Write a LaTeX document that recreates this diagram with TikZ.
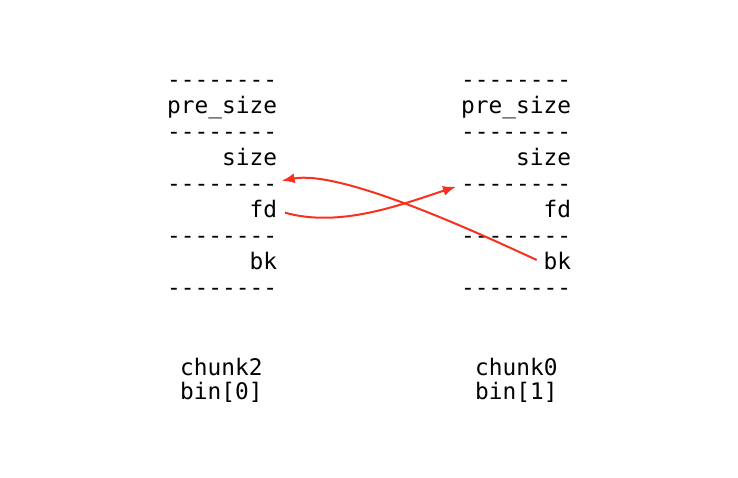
\documentclass[tikz,border=0pt]{standalone}
\usepackage{fontspec}
\setmonofont{DejaVu Sans Mono}
\usetikzlibrary{arrows.meta}
\definecolor{arrred}{RGB}{248,48,30}
\tikzset{
  row/.style={anchor=base west, inner sep=0pt, font=\ttfamily\fontsize{22.8bp}{26bp}\selectfont},
  lbl/.style={anchor=base west, inner sep=0pt, align=left, font=\ttfamily\fontsize{22.8bp}{24bp}\selectfont},
  arr/.style={draw=arrred, line width=2bp, -{Latex[length=13bp,width=10bp]}}
}
\newcommand{\dsh}{-{}-{}-{}-{}-{}-{}-{}-}
\begin{document}
\begin{tikzpicture}[x=1bp,y=-1bp]
\useasboundingbox (0,0) rectangle (738,478);
% left column
\node[row] (l0) at (167,88) {\dsh};
\node[row] (l1) at (167,113.95) {pre\_size};
\node[row] (l2) at (167,139.9) {\dsh};
\node[row] (l3) at (167,165.85) {\hphantom{----}size};
\node[row] (l4) at (167,191.8) {\dsh};
\node[row] (l5) at (167,217.75) {\hphantom{------}fd};
\node[row] (l6) at (167,243.7) {\dsh};
\node[row] (l7) at (167,269.65) {\hphantom{------}bk};
\node[row] (l8) at (167,295.6) {\dsh};
% right column
\node[row] (r0) at (461,88) {\dsh};
\node[row] (r1) at (461,113.95) {pre\_size};
\node[row] (r2) at (461,139.9) {\dsh};
\node[row] (r3) at (461,165.85) {\hphantom{----}size};
\node[row] (r4) at (461,191.8) {\dsh};
\node[row] (r5) at (461,217.75) {\hphantom{------}fd};
\node[row] (r6) at (461,243.7) {\dsh};
\node[row] (r7) at (461,269.65) {\hphantom{------}bk};
\node[row] (r8) at (461,295.6) {\dsh};
% labels
\node[lbl] (cl) at (180,399) {chunk2\\bin[0]};
\node[lbl] (cr) at (475,399) {chunk0\\bin[1]};
% connector ends
\coordinate (fdout) at (285,212.7);
\coordinate (rin) at (456,186.7);
\coordinate (bkout) at (536.7,260);
\coordinate (lin) at (281.7,180.7);
\draw[arr] (fdout) .. controls (340,228) and (400,205) .. (rin);
\draw[arr] (bkout) .. controls (470,229) and (340,170) .. (lin);
\end{tikzpicture}
\end{document}
